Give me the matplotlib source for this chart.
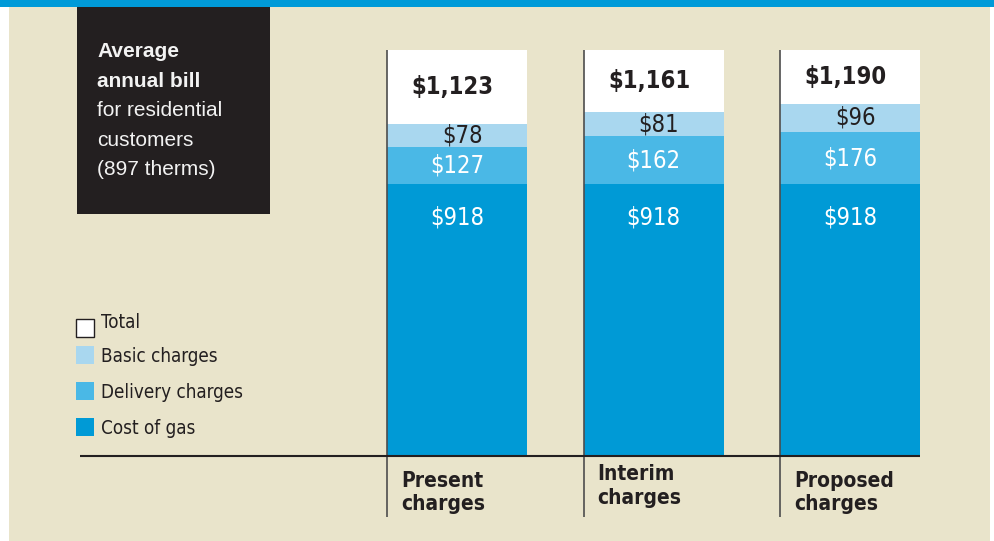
import matplotlib
matplotlib.use("Agg")
import matplotlib.pyplot as plt
from matplotlib.patches import Rectangle

# data
categories = ["Present\ncharges", "Interim\ncharges", "Proposed\ncharges"]
cost_of_gas = [918, 918, 918]
delivery = [127, 162, 176]
basic = [78, 81, 96]
totals = [1123, 1161, 1190]
legend_labels = ["Total", "Basic charges", "Delivery charges", "Cost of gas"]
title_lines = ["Average", "annual bill", "for residential", "customers", "(897 therms)"]

# colours
BG = "#e9e4cb"
TOP_BLUE = "#009ad8"
GAS = "#009ad6"
DELIV = "#4ab8e6"
BASIC = "#a9d7ef"
DARK = "#231f20"

NARROW = dict(family="DejaVu Sans", stretch="condensed")
SANS = ["Liberation Sans", "DejaVu Sans"]

W, H = 995, 541
BASE_PX = 456      # baseline, pixels from top
SCALE = 0.296      # pixels per dollar
CAP = 1372         # top of the white "total" box
STEP_PX = 196.5
X0_PX = 457


def fx(x):
    return x / W


def fy(y):
    return 1 - y / H


fig = plt.figure(figsize=(W / 100, H / 100), dpi=100)
fig.patch.set_facecolor("white")

# background panel + top band
fig.patches.append(Rectangle((fx(9), 0), fx(990 - 9), fy(7), transform=fig.transFigure,
                             facecolor=BG, edgecolor="none", zorder=-2))
fig.patches.append(Rectangle((0, fy(7)), 1, 7 / H, transform=fig.transFigure,
                             facecolor=TOP_BLUE, edgecolor="none", zorder=-2))

ax = fig.add_axes([0, 0, 1, 1])
ax.set_zorder(3)
ax.set_facecolor("none")
ax.set_xlim(-X0_PX / STEP_PX, (W - X0_PX) / STEP_PX)
ax.set_ylim(-(H - BASE_PX) / SCALE, BASE_PX / SCALE)
ax.axis("off")

xs = list(range(len(categories)))
bw = 140 / STEP_PX
bottom2 = [g + d for g, d in zip(cost_of_gas, delivery)]

ax.bar(xs, cost_of_gas, width=bw, color=GAS, zorder=2)
ax.bar(xs, delivery, width=bw, bottom=cost_of_gas, color=DELIV, zorder=2)
ax.bar(xs, basic, width=bw, bottom=bottom2, color=BASIC, zorder=2)
ax.bar(xs, [CAP - t for t in totals], width=bw, bottom=totals, color="white", zorder=2)

# vertical rules at the left edge of each bar, and the baseline
low = -(517 - BASE_PX) / SCALE
for x in xs:
    ax.plot([x - bw / 2, x - bw / 2], [low, CAP], color="#4d4d4d", lw=1.2, zorder=3,
            solid_capstyle="butt")
ax.plot([(80 - X0_PX) / STEP_PX, xs[-1] + bw / 2], [0, 0], color=DARK, lw=1.5, zorder=3,
        solid_capstyle="butt")

# value labels
for i, x in enumerate(xs):
    ax.annotate(f"${totals[i]:,}", (x, (totals[i] + CAP) / 2), xytext=(-3, 0),
                textcoords="offset points", ha="center", va="center", fontsize=17,
                fontweight="bold", color=DARK, zorder=4, **NARROW)
    ax.annotate(f"${basic[i]}", (x, bottom2[i] + basic[i] / 2), xytext=(4, 0),
                textcoords="offset points", ha="center", va="center", fontsize=17,
                color=DARK, zorder=4, **NARROW)
    ax.annotate(f"${delivery[i]}", (x, cost_of_gas[i] + delivery[i] / 2), xytext=(0, 0),
                textcoords="offset points", ha="center", va="center", fontsize=17,
                color="white", zorder=4, **NARROW)
    ax.annotate(f"${cost_of_gas[i]}", (x, cost_of_gas[i]), xytext=(0, -24),
                textcoords="offset points", ha="center", va="center", fontsize=17,
                color="white", zorder=4, **NARROW)

# category labels under the baseline (Interim sits a little higher)
label_dy = [0, 5, 0]
for i, x in enumerate(xs):
    ax.annotate(categories[i], (x - bw / 2, 0), xytext=(10, -11 + label_dy[i]),
                textcoords="offset points", ha="left", va="top", fontsize=15,
                fontweight="bold", color=DARK, linespacing=1.2, zorder=4, **NARROW)

# title box
fig.patches.append(Rectangle((fx(77), fy(214)), fx(270 - 77), (214 - 7) / H,
                             transform=fig.transFigure, facecolor=DARK, edgecolor="none",
                             zorder=1))
baselines = [57, 87, 116, 146, 175]
for j, line in enumerate(title_lines):
    fig.text(fx(97), fy(baselines[j]), line, ha="left", va="baseline", fontsize=15,
             color="#f2f2f2", fontweight="bold" if j < 2 else "normal", family=SANS,
             zorder=5)

# legend
legend_colors = ["white", BASIC, DELIV, GAS]
centers = [328, 355, 391, 427]
text_y = [322, 356, 392, 428]
for j, lab in enumerate(legend_labels):
    fig.patches.append(Rectangle((fx(76), fy(centers[j] + 9)), fx(18), 18 / H,
                                 transform=fig.transFigure, facecolor=legend_colors[j],
                                 edgecolor=DARK if j == 0 else "none", lw=1.0, zorder=2))
    fig.text(fx(101), fy(text_y[j]), lab, ha="left", va="center", fontsize=13.5,
             color=DARK, zorder=5, **NARROW)

fig.savefig("out.png", dpi=100, facecolor=fig.get_facecolor())
